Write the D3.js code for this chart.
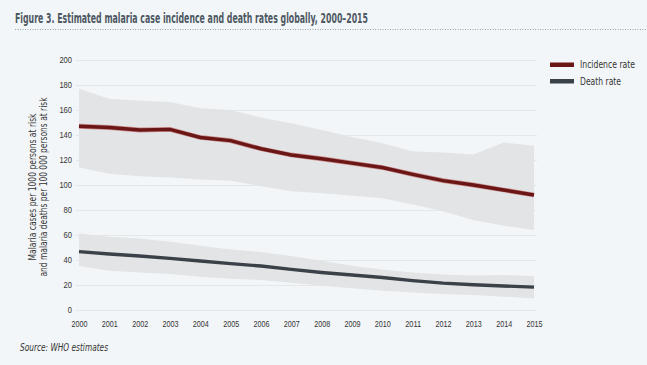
<!DOCTYPE html>
<html><head><meta charset="utf-8">
<script src="https://cdn.jsdelivr.net/npm/d3@7"></script>
<style>
html,body{margin:0;padding:0;background:#f3f6f8;}
svg{display:block;font-family:"DejaVu Sans Condensed","Liberation Sans Narrow","Open Sans",sans-serif;}
</style></head><body>
<svg id="chart" width="647" height="365"></svg>
<script>
const years = [2000,2001,2002,2003,2004,2005,2006,2007,2008,2009,2010,2011,2012,2013,2014,2015];
const incidence      = [147,146,144,144.5,138,135.5,129,124,121,117.5,114,108.5,103.5,100,96,92];
const incidenceUpper = [177,169,167.5,166.5,161.5,160,154,149.5,144,138.5,133.5,127,126,124.5,134,131.5];
const incidenceLower = [114,109,107,106,104.5,103.5,99,95,93.5,91.5,89.5,84.5,79,72,67.5,64];
const deaths      = [46.7,44.8,43.2,41.3,39.2,37.1,35.2,32.5,30,28,26,23.5,21.5,20.2,19.2,18.3];
const deathsUpper = [61.3,58.7,57.3,54.7,51.5,48.5,46.4,43.2,39.5,35.5,32.5,30,28.5,27.7,28,27.2];
const deathsLower = [35.2,31.5,30.1,28.8,26.7,25.1,24,21.9,19.5,17.5,15.5,14,12.8,12,10.7,9.3];
const yTicks = [0,20,40,60,80,100,120,140,160,180,200];
const seriesNames = ["Incidence rate","Death rate"];
const titleText = "Figure 3. Estimated malaria case incidence and death rates globally, 2000\u20132015";
const yTitle = ["Malaria cases per 1000 persons at risk","and malaria deaths per 100 000 persons at risk"];
const sourceText = "Source: WHO estimates";

const svg = d3.select("#chart");
const x = d3.scaleLinear().domain([2000,2015]).range([79,534]);
const y = d3.scaleLinear().domain([0,200]).range([310,60]);

// title
svg.append("text").attr("x",15).attr("y",23).text(titleText)
  .attr("font-size",14.5).attr("font-weight","bold").attr("fill","#4d5863")
  .attr("textLength",353).attr("lengthAdjust","spacingAndGlyphs");
svg.append("line").attr("x1",15).attr("x2",647).attr("y1",29.5).attr("y2",29.5)
  .attr("stroke","#9aa3ab").attr("stroke-width",1).attr("stroke-dasharray","1,1.5");

// gridlines
svg.append("g").selectAll("line").data(yTicks).join("line")
  .attr("x1",76).attr("x2",537).attr("y1",d=>y(d)+0.5).attr("y2",d=>y(d)+0.5)
  .attr("stroke","#e3e8eb").attr("stroke-width",1);

// bands
const area = (lo,hi)=>d3.area().x((d,i)=>x(years[i])).y0((d,i)=>y(lo[i])).y1((d,i)=>y(hi[i]));
svg.append("path").attr("d",area(incidenceLower,incidenceUpper)(years)).attr("fill","#e3e4e5");
svg.append("path").attr("d",area(deathsLower,deathsUpper)(years)).attr("fill","#e3e4e5");

// lines
const line = vals=>d3.line().x((d,i)=>x(years[i])).y((d,i)=>y(vals[i]))(years);
svg.append("path").attr("d",line(incidence)).attr("fill","none").attr("stroke","#b33a3a").attr("stroke-width",4.8).attr("opacity",0.5);
svg.append("path").attr("d",line(incidence)).attr("fill","none").attr("stroke","#6a1616").attr("stroke-width",3.4);
svg.append("path").attr("d",line(deaths)).attr("fill","none").attr("stroke","#3b4148").attr("stroke-width",3.4);

// y axis labels
const yAxis = d3.axisLeft(y).tickValues(yTicks).tickSize(0).tickPadding(0);
const gy = svg.append("g").attr("transform","translate(72,0)").call(yAxis);
gy.select(".domain").remove();
gy.selectAll("text").attr("font-size",9).attr("fill","#333").attr("font-family",null)
  .attr("textLength",d=>String(d).length*4.2).attr("lengthAdjust","spacingAndGlyphs");

// x axis labels
const xAxis = d3.axisBottom(x).tickValues(years).tickFormat(d3.format("d")).tickSize(0).tickPadding(0);
const gx = svg.append("g").attr("transform","translate(0,321)").call(xAxis);
gx.select(".domain").remove();
gx.selectAll("text").attr("font-size",9).attr("fill","#333").attr("font-family",null)
  .attr("textLength",16).attr("lengthAdjust","spacingAndGlyphs");

// y title
const yt = svg.append("text").attr("transform","translate(0,187) rotate(-90)").attr("text-anchor","middle")
  .attr("font-size",10).attr("fill","#333");
const yLens = [147,179];
yTitle.forEach((t,i)=>yt.append("tspan").attr("x",0).attr("y",36+i*11).text(t)
  .attr("textLength",yLens[i]).attr("lengthAdjust","spacingAndGlyphs"));

// legend
const legColors = ["#6a1616","#3b4148"];
const legLens = [55,41];
const leg = svg.append("g");
seriesNames.forEach((n,i)=>{
  leg.append("rect").attr("x",550).attr("y",62.5+i*16.5).attr("width",24).attr("height",4.5).attr("fill",legColors[i]);
  leg.append("text").attr("x",580).attr("y",68+i*16.5).text(n).attr("font-size",10).attr("fill","#333")
    .attr("textLength",legLens[i]).attr("lengthAdjust","spacingAndGlyphs");
});

// source
svg.append("text").attr("x",20).attr("y",351).text(sourceText)
  .attr("font-size",10).attr("font-style","italic").attr("fill","#333")
  .attr("textLength",88).attr("lengthAdjust","spacingAndGlyphs");
</script>
</body></html>
